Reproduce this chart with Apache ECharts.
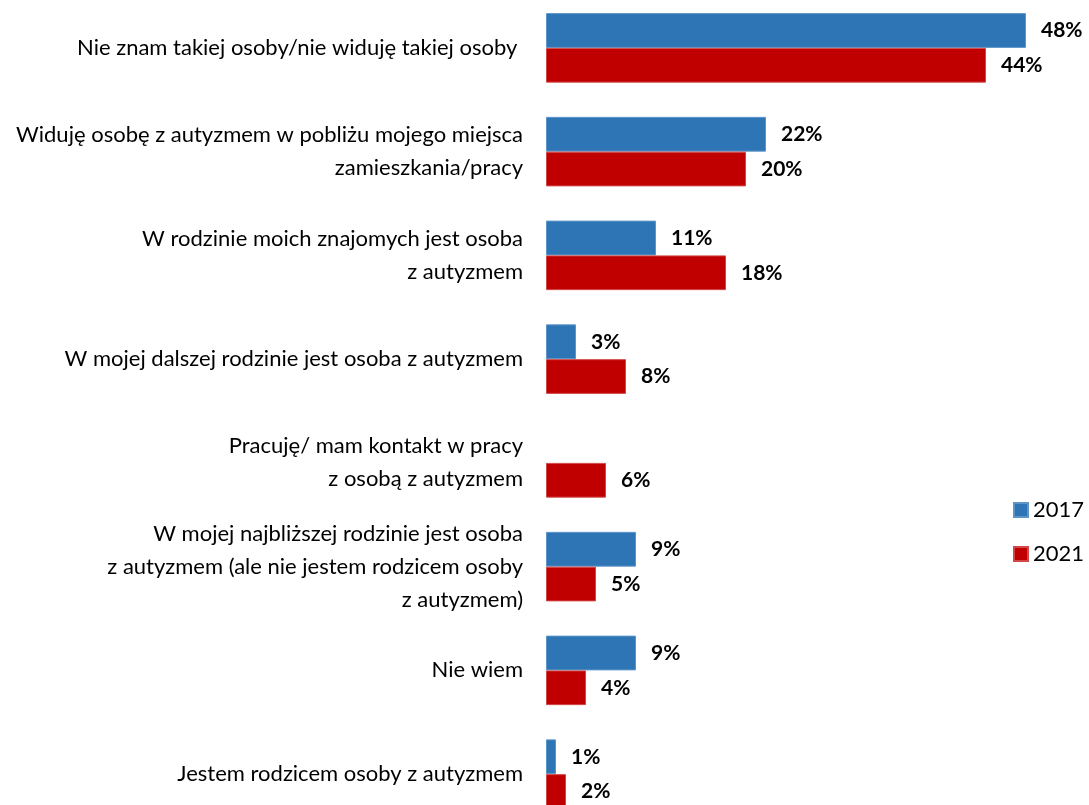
<!DOCTYPE html>
<html>
<head>
<meta charset="utf-8">
<script src="https://cdn.jsdelivr.net/npm/echarts@6/dist/echarts.min.js"></script>
<style>
html,body{margin:0;padding:0;background:#fff;}
#chart{width:1089px;height:805px;}
</style>
</head>
<body>
<div id="chart"></div>
<script>
const categories = [
  "Nie znam takiej osoby/nie widuję takiej osoby ",
  "Widuję osobę z autyzmem w pobliżu mojego miejsca\nzamieszkania/pracy",
  "W rodzinie moich znajomych jest osoba\nz autyzmem",
  "W mojej dalszej rodzinie jest osoba z autyzmem",
  "Pracuję/ mam kontakt w pracy\nz osobą z autyzmem",
  "W mojej najbliższej rodzinie jest osoba\nz autyzmem (ale nie jestem rodzicem osoby\nz autyzmem)",
  "Nie wiem",
  "Jestem rodzicem osoby z autyzmem"
];
const series2017 = [48, 22, 11, 3, null, 9, 9, 1];
const series2021 = [44, 20, 18, 8, 6, 5, 4, 2];
const seriesNames = ["2017", "2021"];

const FONT = "Lato, 'Open Sans', sans-serif";
const chart = echarts.init(document.getElementById('chart'));
const labelCfg = {
  show: true,
  position: 'right',
  distance: 15,
  formatter: p => p.value == null ? '' : p.value + '%',
  color: '#000',
  fontWeight: 'bold',
  fontSize: 21,
  fontFamily: FONT
};
chart.setOption({
  animation: false,
  backgroundColor: '#fff',
  grid: { left: 546, top: -4, height: 830, width: 500, containLabel: false, outerBoundsMode: 'none' },
  legend: {
    orient: 'vertical',
    left: 1013,
    top: 499,
    padding: 0,
    itemWidth: 14,
    itemHeight: 14,
    itemGap: 22,
    icon: 'rect',
    textStyle: { fontSize: 22, fontFamily: FONT, color: '#000' },
    data: seriesNames
  },
  xAxis: {
    type: 'value', min: 0, max: 50,
    show: false
  },
  yAxis: {
    type: 'category',
    inverse: true,
    data: categories,
    axisLine: { show: false },
    axisTick: { show: false },
    axisLabel: {
      margin: 23,
      fontSize: 22,
      lineHeight: 33,
      fontFamily: FONT,
      color: '#000',
      align: 'right'
    }
  },
  series: [
    {
      name: seriesNames[0], type: 'bar', data: series2017,
      barGap: '0%', barCategoryGap: '33%',
      itemStyle: { color: '#2E75B6', borderColor: '#5E95C9', borderWidth: 1 },
      label: labelCfg
    },
    {
      name: seriesNames[1], type: 'bar', data: series2021,
      barGap: '0%', barCategoryGap: '33%',
      itemStyle: { color: '#C00000', borderColor: '#D24848', borderWidth: 1 },
      label: labelCfg
    }
  ]
});
</script>
</body>
</html>
